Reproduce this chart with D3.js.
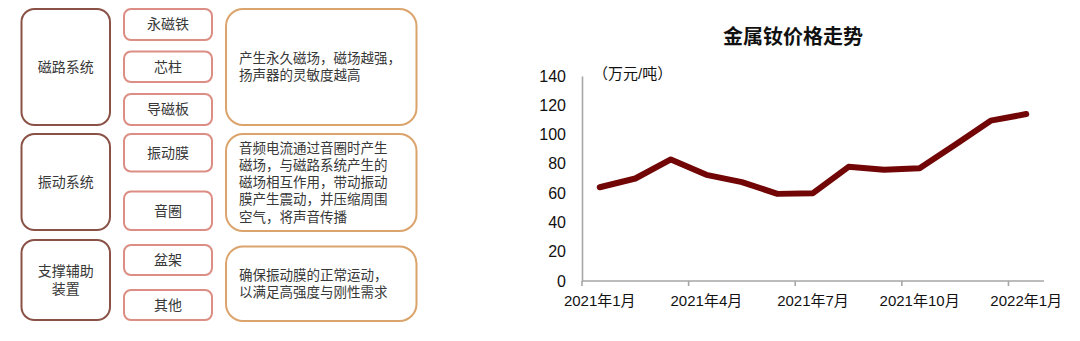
<!DOCTYPE html>
<html>
<head>
<meta charset="utf-8">
<script src="https://cdn.jsdelivr.net/npm/d3@7/dist/d3.min.js"></script>
<style>
  html, body { margin: 0; padding: 0; background: #fff; }
  svg { display: block; }
  text { font-family: "Liberation Sans", Arial, "Noto Sans CJK SC", sans-serif; }
  .cjk { font-family: "Noto Sans CJK SC", "Liberation Sans", sans-serif; }
</style>
</head>
<body>
<svg id="fig" width="1080" height="341"></svg>
<script>
// ---- Speaker structure diagram content ----
const groups = ["磁路系统", "振动系统", "支撑辅助\n装置"];
const parts = [
  ["永磁铁", "芯柱", "导磁板"],
  ["振动膜", "音圈"],
  ["盆架", "其他"]
];
const descriptions = [
  ["产生永久磁场，磁场越强，", "扬声器的灵敏度越高"],
  ["音频电流通过音圈时产生", "磁场，与磁路系统产生的", "磁场相互作用，带动振动", "膜产生震动，并压缩周围", "空气，将声音传播"],
  ["确保振动膜的正常运动，", "以满足高强度与刚性需求"]
];

// ---- Neodymium metal price series (万元/吨) ----
const months = ["2021年1月", "2021年2月", "2021年3月", "2021年4月", "2021年5月", "2021年6月",
                "2021年7月", "2021年8月", "2021年9月", "2021年10月", "2021年11月", "2021年12月", "2022年1月"];
const prices = [64, 70, 83, 72.5, 67.5, 59.5, 60, 78, 76, 77, 93, 109.5, 114];
const yTicks = [0, 20, 40, 60, 80, 100, 120, 140];
const xTickLabels = ["2021年1月", "2021年4月", "2021年7月", "2021年10月", "2022年1月"];

const svg = d3.select("#fig");

// ================= Diagram =================
// Row geometry: [top, bottom] of each group row, part boxes inside, and description box
const rows = [
  { group: [9, 125],  parts: [[9, 40], [51.5, 82], [94, 125]], desc: [9, 125] },
  { group: [134, 230], parts: [[134, 171.5], [191.5, 230]],      desc: [134, 231] },
  { group: [240, 320], parts: [[245, 275], [290, 320]],          desc: [246.5, 321] }
];
const colGroup = [21.5, 110], colPart = [124, 212], colDesc = [226, 416.5];
const textColor = "#383838";

const diag = svg.append("g").attr("class", "diagram");

// one <text> per line, vertically centred as a block on yMid
function textBlock(parent, lines, xPos, yMid, lineH, size, anchor) {
  lines.forEach((ln, k) => {
    parent.append("text")
      .attr("font-size", size).attr("fill", textColor)
      .attr("text-anchor", anchor)
      .attr("x", xPos)
      .attr("y", yMid + (k - (lines.length - 1) / 2) * lineH)
      .attr("dy", "0.35em")
      .text(ln);
  });
}

rows.forEach((r, i) => {
  // group box
  diag.append("rect")
    .attr("x", colGroup[0]).attr("y", r.group[0])
    .attr("width", colGroup[1] - colGroup[0]).attr("height", r.group[1] - r.group[0])
    .attr("rx", 13).attr("ry", 13)
    .attr("fill", "#fff").attr("stroke", "#8a5246").attr("stroke-width", 2);
  textBlock(diag, groups[i].split("\n"), (colGroup[0] + colGroup[1]) / 2,
            (r.group[0] + r.group[1]) / 2, 17.5, 14, "middle");

  // part boxes
  parts[i].forEach((p, j) => {
    const [t, b] = r.parts[j];
    diag.append("rect")
      .attr("x", colPart[0]).attr("y", t)
      .attr("width", colPart[1] - colPart[0]).attr("height", b - t)
      .attr("rx", 7).attr("ry", 7)
      .attr("fill", "#fff").attr("stroke", "#dc8d84").attr("stroke-width", 2);
    textBlock(diag, [p], (colPart[0] + colPart[1]) / 2, (t + b) / 2, 17, 14, "middle");
  });

  // description box
  diag.append("rect")
    .attr("x", colDesc[0]).attr("y", r.desc[0])
    .attr("width", colDesc[1] - colDesc[0]).attr("height", r.desc[1] - r.desc[0])
    .attr("rx", 17).attr("ry", 17)
    .attr("fill", "#fff").attr("stroke", "#dba46c").attr("stroke-width", 2);
  textBlock(diag, descriptions[i], 239, (r.desc[0] + r.desc[1]) / 2, 17.2, 13.5, "start");
});

// ================= Line chart =================
const x = d3.scaleBand().domain(months).range([582, 1044]).paddingInner(0).paddingOuter(0);
const y = d3.scaleLinear().domain([0, 140]).range([281, 76]);
const axisColor = "#a6a6a6";

const chart = svg.append("g").attr("class", "chart");

chart.append("text").attr("class", "cjk")
  .attr("x", 793).attr("y", 44)
  .attr("text-anchor", "middle")
  .attr("font-size", 20).attr("font-weight", "bold").attr("fill", "#111")
  .text("金属钕价格走势");

chart.append("text")
  .attr("x", 593).attr("y", 78.5)
  .attr("font-size", 15).attr("fill", "#111")
  .text("（万元/吨）");

// y axis: line only, labels to the left
const yAxis = chart.append("g")
  .attr("transform", `translate(${x.range()[0]},0)`)
  .call(d3.axisLeft(y).tickValues(yTicks).tickSize(0).tickPadding(16));
yAxis.select(".domain").attr("stroke", axisColor).attr("stroke-width", 1.6);
yAxis.selectAll("text")
  .attr("font-size", 16).attr("fill", "#111")
  .attr("font-family", "'Liberation Sans', Arial, sans-serif");

// x axis: ticks on every third band boundary, labels at band centres
const tickMonths = months.filter((m, i) => i % 3 === 0);
const xAxisG = chart.append("g").attr("transform", `translate(0,${y(0)})`);
xAxisG.append("line")
  .attr("x1", x.range()[0]).attr("x2", x.range()[1])
  .attr("stroke", axisColor).attr("stroke-width", 1.6);
xAxisG.selectAll("line.tick")
  .data(tickMonths).join("line").attr("class", "tick")
  .attr("x1", d => x(d)).attr("x2", d => x(d))
  .attr("y1", 0).attr("y2", 5)
  .attr("stroke", axisColor).attr("stroke-width", 1.6);
xAxisG.selectAll("text.lbl")
  .data(xTickLabels).join("text").attr("class", "lbl")
  .attr("x", d => x(d) + x.bandwidth() / 2)
  .attr("y", 25)
  .attr("text-anchor", "middle")
  .attr("font-size", 15).attr("fill", "#111")
  .text(d => d);

// price line
const line = d3.line()
  .x((d, i) => x(months[i]) + x.bandwidth() / 2)
  .y(d => y(d));
chart.append("path")
  .datum(prices)
  .attr("d", line)
  .attr("fill", "none")
  .attr("stroke", "#720606")
  .attr("stroke-width", 6)
  .attr("stroke-linejoin", "round")
  .attr("stroke-linecap", "round");
</script>
</body>
</html>
